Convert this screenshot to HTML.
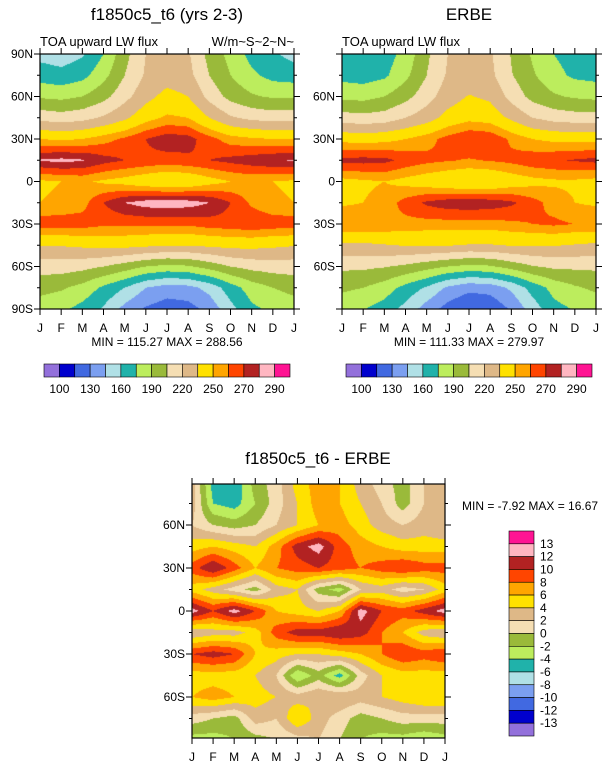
<!DOCTYPE html>
<html><head><meta charset="utf-8">
<style>
body{margin:0;background:#fff;}
#wrap{position:relative;width:610px;height:768px;overflow:hidden;font-family:"Liberation Sans",sans-serif;}
canvas{position:absolute;}
svg{position:absolute;left:0;top:0;}
</style></head>
<body>
<div id="wrap">
<canvas id="c1" style="left:40px;top:54px" width="254" height="255"></canvas>
<canvas id="c2" style="left:342px;top:54px" width="254" height="255"></canvas>
<canvas id="c3" style="left:192px;top:484px" width="253" height="254"></canvas>
<svg id="s" width="610" height="768"></svg>
</div>
<script>
const months=["J","F","M","A","M","J","J","A","S","O","N","D","J"];
const latLabels=["90N","60N","30N","0","30S","60S","90S"];
const latTicks=[90,60,30,0,-30,-60,-90];
const absLevels=[100,115,130,145,160,175,190,205,220,235,250,260,270,280,290];
const absLabels=["100","130","160","190","220","250","270","290"];
const diffLevels=[-13,-12,-10,-8,-6,-4,-2,0,2,4,6,8,10,12,13];
const diffLabels=["13","12","10","8","6","4","2","0","-2","-4","-6","-8","-10","-12","-13"];
const colors=["#9370db","#0000cd","#4169e1","#7b9ff0","#b0e0e6","#20b2aa","#bced5d","#9aba3a","#f5deb3","#deb887","#ffe100","#ffa500","#ff4500","#b22222","#ffb6c1","#ff1493"];
// rows: 90N..90S every 15 deg; cols: Jan..Jan
const modelVals=[
[155,152,158,175,200,220,225,222,200,185,170,162,155],
[168,165,170,185,205,222,228,225,205,190,178,170,168],
[188,186,190,200,215,230,240,235,215,200,192,188,188],
[215,212,215,222,232,245,252,250,235,222,216,214,215],
[250,248,250,256,262,270,276,274,264,255,252,250,250],
[281,283,281,274,270,268,266,268,270,273,276,279,281],
[248,250,252,248,245,240,236,238,245,250,252,250,248],
[250,252,256,270,280,285,286,285,280,270,258,252,250],
[266,266,265,262,262,262,262,262,265,266,268,266,266],
[236,236,238,240,240,238,236,236,238,240,240,238,236],
[212,212,210,205,198,190,186,188,196,205,210,212,212],
[195,192,185,172,160,145,138,140,150,168,182,190,195],
[182,178,170,158,140,128,122,124,135,155,172,178,182]];
const erbeVals=[
[166,164,168,180,202,220,224,222,204,188,175,168,166],
[170,168,172,186,205,222,226,224,206,192,180,172,170],
[186,185,190,200,214,228,236,232,215,200,192,188,186],
[212,210,212,220,228,240,246,244,232,220,214,212,212],
[246,244,246,250,256,264,270,268,258,250,247,246,246],
[273,274,273,267,263,261,259,261,263,267,269,271,273],
[246,248,250,246,242,238,235,236,242,246,248,248,246],
[248,250,254,264,272,276,277,276,272,264,256,250,248],
[260,260,259,257,256,256,256,256,258,260,262,260,260],
[232,232,234,236,236,236,234,234,236,236,236,234,232],
[208,208,206,202,196,190,186,188,196,204,208,208,208],
[193,190,183,170,158,142,134,136,148,166,180,188,193],
[180,176,168,155,138,124,116,118,132,152,170,176,180]];
const diffVals=[
[3,-5,-6,-1,1,5,7,6,3,1,-1,2,3],
[3,-4,-5,-2,1,4,7,6,4,2,-1,2,3],
[2,0,-1,0,2,4,6,7,5,3,2,3,2],
[5,6,5,4,7,11,13,9,7,6,5,5,5],
[9,12,9,6,8,9,10,9,8,9,10,9,9],
[5,3,1,-1,3,4,-1,-3,2,3,1,2,5],
[13,10,13,10,6,5,4,6,13,10,9,11,13],
[2,3,3,5,9,11,11,12,11,8,6,3,2],
[10,11,10,6,5,4,4,5,6,8,10,9,10],
[5,5,5,4,2,-4,-1,-5,1,4,5,5,5],
[6,7,6,5,4,3,4,4,3,4,5,6,6],
[1,0,-1,3,2,6,3,1,-1,0,1,1,1],
[-3,-3,-2,-1,0,1,2,0,-2,-3,-3,-4,-3]];

function hex(h){return [parseInt(h.substr(1,2),16),parseInt(h.substr(3,2),16),parseInt(h.substr(5,2),16)];}
const rgb=colors.map(hex);
function colorIdx(v,lev){let i=0;while(i<lev.length&&v>=lev[i])i++;return i;}
function fill(id,vals,lev,latTop,latBot){
  const c=document.getElementById(id),ctx=c.getContext('2d'),W=c.width,H=c.height;
  const img=ctx.createImageData(W,H);const nr=vals.length,nc=vals[0].length;
  for(let y=0;y<H;y++){const lat=latTop+(latBot-latTop)*(y+0.5)/H;
    const fr=Math.min(nr-1.0001,Math.max(0,(90-lat)/180*(nr-1)));const r0=Math.floor(fr),tr=fr-r0;
    for(let x=0;x<W;x++){const fc=(x+0.5)/W*(nc-1);const c0=Math.min(nc-2,Math.floor(fc)),tc=fc-c0;
      const v=(vals[r0][c0]*(1-tc)+vals[r0][c0+1]*tc)*(1-tr)+(vals[r0+1][c0]*(1-tc)+vals[r0+1][c0+1]*tc)*tr;
      const col=rgb[colorIdx(v,lev)];const k=(y*W+x)*4;
      img.data[k]=col[0];img.data[k+1]=col[1];img.data[k+2]=col[2];img.data[k+3]=255;}}
  ctx.putImageData(img,0,0);
}
fill('c1',modelVals,absLevels,90,-90);
fill('c2',erbeVals,absLevels,90,-90);
fill('c3',diffVals,diffLevels,88.6,-88.6);

const S=document.getElementById('s');const NS="http://www.w3.org/2000/svg";
function el(t,a,txt){const e=document.createElementNS(NS,t);for(const k in a)e.setAttribute(k,a[k]);if(txt!==undefined)e.textContent=txt;S.appendChild(e);return e;}
function text(x,y,s,size,anchor,name){const e=el('text',{x:x,y:y,'font-size':size,'text-anchor':anchor||'middle',fill:'#000'},s);
  
  return e;}
function axes(x0,y0,w,h,latTop,latBot,showEnds,pname){
  const fr=el('rect',{x:x0,y:y0,width:w,height:h,fill:'none',stroke:'#000','stroke-width':1.2});
  
  
  const ly=lat=>y0+(latTop-lat)/(latTop-latBot)*h;
  for(let i=0;i<13;i++){const x=x0+i*w/12;
    el('line',{x1:x,y1:y0+h,x2:x,y2:y0+h+6,stroke:'#000'});el('line',{x1:x,y1:y0,x2:x,y2:y0-6,stroke:'#000'});
    text(x,y0+h+23,months[i],12,'middle',pname+'-month-label');}
  for(let lat=-90;lat<=90;lat+=15){const y=ly(lat);if(y<y0-0.5||y>y0+h+0.5)continue;
    const maj=lat%30===0;el('line',{x1:x0,y1:y,x2:x0-(maj?6:3),y2:y,stroke:'#000'});el('line',{x1:x0+w,y1:y,x2:x0+w+(maj?6:3),y2:y,stroke:'#000'});}
  latTicks.forEach((lat,i)=>{if(!showEnds&&Math.abs(lat)===90)return;const y=ly(lat);text(x0-7,y+4,latLabels[i],12,'end',pname+'-lat-label');});
}
axes(40,54,254,255,90,-90,true,'model');
axes(342,54,254,255,90,-90,false,'erbe');
axes(192,484,253,254,88.6,-88.6,false,'diff');
text(167,20,"f1850c5_t6 (yrs 2-3)",17,'middle','model-title');
text(40,46,"TOA upward LW flux",13,'start','model-subtitle');
text(294,46,"W/m~S~2~N~",13,'end','units-label');
text(469,20,"ERBE",17,'middle','erbe-title');
text(342,46,"TOA upward LW flux",13,'start','erbe-subtitle');
text(167,346,"MIN = 115.27 MAX = 288.56",12,'middle','model-min-max');
text(469,346,"MIN = 111.33 MAX = 279.97",12,'middle','erbe-min-max');
text(318,464,"f1850c5_t6 - ERBE",17,'middle','diff-title');
text(462,510,"MIN =  -7.92 MAX =  16.67",12,'start','diff-min-max');
function hbar(x0,name){const bw=246/16;
  for(let i=0;i<16;i++){const r=el('rect',{x:x0+i*bw,y:364,width:bw,height:13,fill:colors[i],stroke:'#000','stroke-width':0.6});
    
    }
  absLabels.forEach((s,i)=>text(x0+(1+2*i)*bw,393,s,12,'middle',name+'-label'));}
hbar(44,'model-colorbar');hbar(346,'erbe-colorbar');
const bh=205/16;
for(let i=0;i<16;i++){const r=el('rect',{x:509,y:531+i*bh,width:25,height:bh,fill:colors[15-i],stroke:'#000','stroke-width':0.6});
  
  }
diffLabels.forEach((s,i)=>text(540,531+(i+1)*bh+4,s,12,'start','diff-colorbar-label'));
</script>
</body></html>
